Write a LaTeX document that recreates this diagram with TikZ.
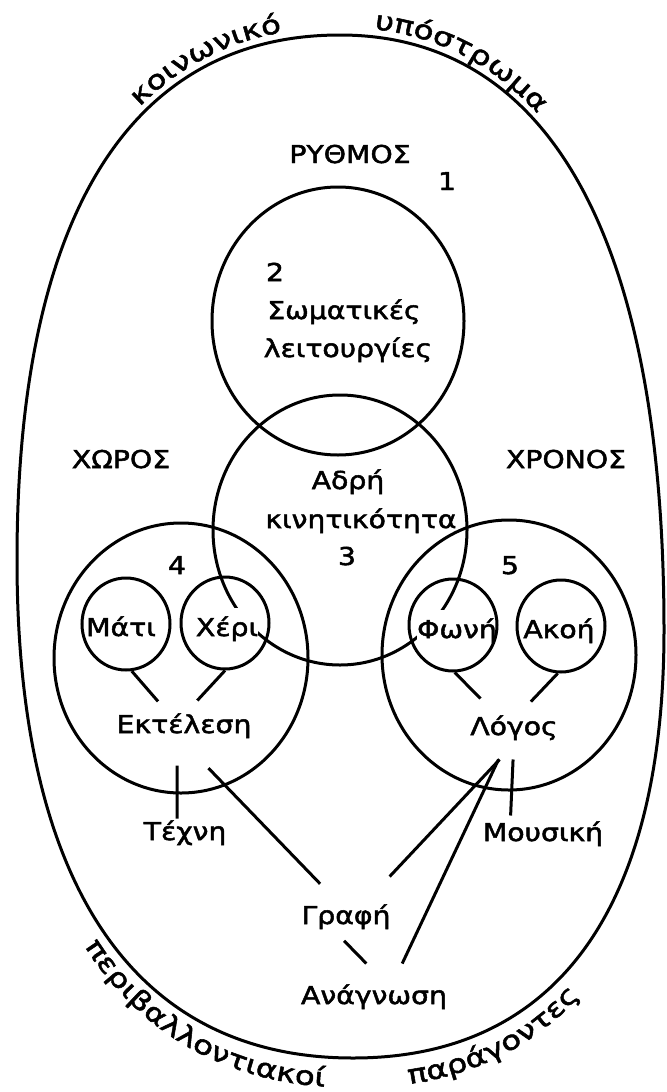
\documentclass[tikz,border=0pt]{standalone}
\usepackage{fontspec}
\setmainfont{DejaVu Sans}[FakeStretch=1.15, FakeBold=2]
\newfontfamily\curvefont{DejaVu Sans}[FakeStretch=1.25, FakeBold=2]
\usetikzlibrary{decorations.text, shapes.geometric}
\begin{document}
\begin{tikzpicture}[x=0.5pt, y=-0.5pt, line width=1.5pt,
  lbl/.style={font=\fontsize{12.3}{14}\selectfont, text height=9pt, text depth=0pt, inner sep=1pt},
  wlbl/.style={lbl, fill=white, inner xsep=0pt, inner ysep=5pt},
  small/.style={draw, ellipse, minimum width=44pt, minimum height=46pt, inner sep=0pt},
  ring/.style={draw}
]
\useasboundingbox (0,0) rectangle (666,1092);

% outer oval
\draw (340,35) .. controls (551,35) and (664,242) .. (664,630)
  .. controls (664,909) and (556,1058) .. (353,1058)
  .. controls (134,1058) and (17,885) .. (17,560)
  .. controls (17,218) and (129,35) .. cycle;

% curved texts
\path[decorate, decoration={text along path, text={|\curvefont\fontsize{13}{15}\selectfont|κοινωνικό}, text align={left indent=241pt}}]
  (12.2,560.2) .. controls (12.2,213.1) and (125.8,27.3) .. (340,27.3) .. controls (554.2,27.3) and (668.9,237.4) .. (668.9,631.3);
\path[decorate, decoration={text along path, text={|\curvefont\fontsize{13}{15}\selectfont|υπόστρωμα}, text align={left indent=369pt}}]
  (12.2,560.2) .. controls (12.2,213.1) and (125.8,27.3) .. (340,27.3) .. controls (554.2,27.3) and (668.9,237.4) .. (668.9,631.3);
\path[decorate, decoration={text along path, text={|\curvefont\fontsize{13}{15}\selectfont|περιβαλλοντιακοί}, text align={left indent=200pt}}]
  (-1.7,560.8) .. controls (-1.7,904.7) and (122.1,1087.7) .. (353.8,1087.7) .. controls (568.5,1087.7) and (682.8,930.1) .. (682.8,634.9);
\path[decorate, decoration={text along path, text={|\curvefont\fontsize{13}{15}\selectfont|παράγοντες}, text align={left indent=387pt}}]
  (-1.7,560.8) .. controls (-1.7,904.7) and (122.1,1087.7) .. (353.8,1087.7) .. controls (568.5,1087.7) and (682.8,930.1) .. (682.8,634.9);

% big circles
\path[ring] (338,321) ellipse [x radius=126, y radius=134];
\path[ring] (340,530) ellipse [x radius=127, y radius=135];
\path[ring] (181,658) ellipse [x radius=127, y radius=135];
\path[ring] (509,655) ellipse [x radius=127, y radius=135];

% labels
\node[lbl] (rythmos) at (350,154) {ΡΥΘΜΟΣ};
\node[lbl] (n1) at (447,181) {1};
\node[lbl] (n2) at (275,272) {2};
\node[lbl] (somat) at (344,310) {Σωματικές};
\node[lbl] (leit) at (348,348) {λειτουργίες};
\node[lbl] (choros) at (121,459) {ΧΩΡΟΣ};
\node[lbl] (chronos) at (566,459) {ΧΡΟΝΟΣ};
\node[lbl] (adri) at (348,480) {Αδρή};
\node[lbl] (kin) at (361,519) {κινητικότητα};
\node[lbl] (n3) at (347,556) {3};
\node[lbl] (n4) at (177,565) {4};
\node[lbl] (n5) at (510,565) {5};

\node[wlbl] (matiT) at (121,627) {Μάτι};
\node[wlbl] (xeriT) at (227,627) {Χέρι};
\node[wlbl] (fwniT) at (457,629) {Φωνή};
\node[wlbl] (akoiT) at (559,629) {Ακοή};

\node[small] (mati) at (126,624) {};
\node[small] (xeri) at (225,623) {};
\node[small] (fwni) at (453,625) {};
\node[small] (akoi) at (561,626) {};

\node[lbl] (ekt) at (184,724) {Εκτέλεση};
\node[lbl] (logos) at (514,726) {Λόγος};
\node[lbl] (techni) at (185,831) {Τέχνη};
\node[lbl] (mous) at (543,832) {Μουσική};
\node[lbl] (grafi) at (346,915) {Γραφή};
\node[lbl] (anag) at (374,995) {Ανάγνωση};

% connectors
\draw[shorten >=6.7pt] (mati.-83) -- (ekt.144);
\draw[shorten >=7.5pt] (xeri.-90) -- (ekt.76);
\draw[shorten >=10.6pt] (fwni.-88) -- (logos.146);
\draw[shorten >=8.2pt] (akoi.-94) -- (logos.66);
\draw[shorten <=14.5pt] (ekt.-119) -- (techni.122);
\draw[shorten <=22pt, shorten >=13pt] (ekt.-116) -- (grafi.122);
\draw[shorten <=14.4pt, shorten >=17.8pt] (logos.-67) -- (grafi.33);
\draw[shorten <=11.6pt, shorten >=10.5pt] (logos.-114) -- (anag.33);
\draw[shorten <=10.5pt, shorten >=2pt] (logos.-90) -- (mous.159);
\draw[shorten <=9.3pt, shorten >=13.3pt] (grafi.-140) -- (anag.49);
\end{tikzpicture}
\end{document}
